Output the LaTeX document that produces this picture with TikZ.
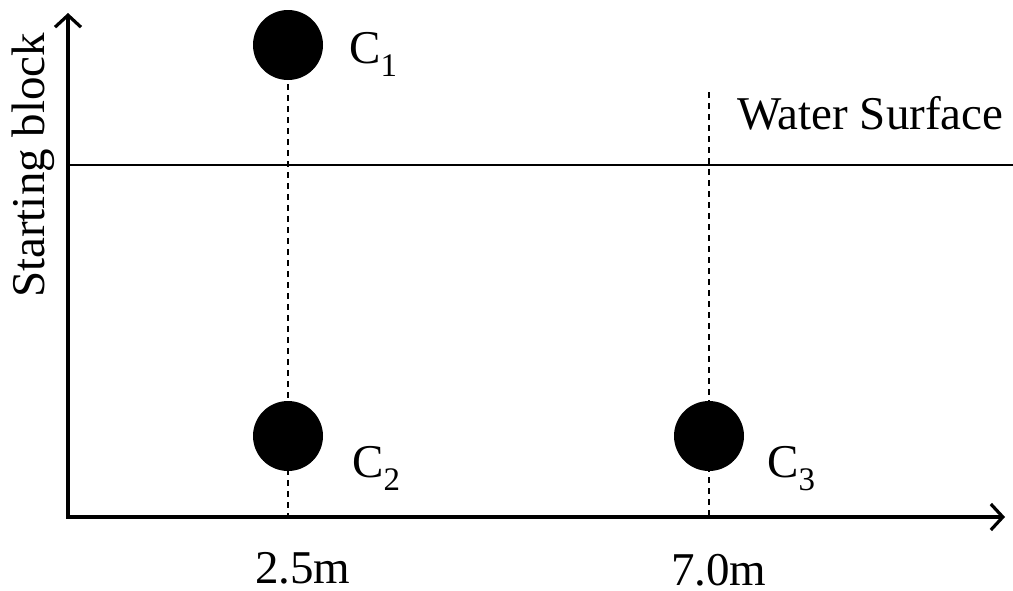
\documentclass[tikz,border=0pt]{standalone}
\usepackage{fontspec}
\setmainfont{Liberation Serif}
\usetikzlibrary{arrows.meta}
\begin{document}
\begin{tikzpicture}[x=1pt,y=-1pt,
  axis/.style={line width=3.2pt,-{Straight Barb[length=12pt,width=26pt,line width=3.2pt]}},
  guide/.style={line width=1.4pt,dash pattern=on 6pt off 5pt},
  dot/.style={circle,fill=black,inner sep=0pt,minimum size=70pt},
  lbl/.style={inner sep=0pt,font=\fontsize{47}{54}\selectfont}]
\useasboundingbox (0,0) rectangle (1013,590);
% coordinates
\coordinate (O) at (68,517);
\coordinate (ytop) at (68,13);
\coordinate (xend) at (1005,517);
\coordinate (wl) at (68,165);
\coordinate (wr) at (1013,165);
\coordinate (b1) at (288,517);
\coordinate (b3) at (709,517);
\coordinate (t3) at (709,92);
% dashed guides
\node[dot] (c1) at (288,45) {};
\draw[guide] (c1.south) ++(0,4) -- (b1);
\draw[guide] (t3) -- (b3);
\node[dot] (c2) at (288,436) {};
\node[dot] (c3) at (709,436) {};
% water surface
\draw[line width=1.6pt] (wl) -- (wr);
% axes
\draw[axis] (O) -- (ytop);
\draw[axis] ([xshift=-1.6pt]O) -- (xend);
% labels
\node[lbl,anchor=base west] (l1) at (349,63) {C\textsubscript{1}};
\node[lbl,anchor=base west] (l2) at (352,477) {C\textsubscript{2}};
\node[lbl,anchor=base west] (l3) at (767,477) {C\textsubscript{3}};
\node[lbl,anchor=base west] (ws) at (737,129) {Water Surface};
\node[lbl,anchor=base west] (d1) at (255,583) {2.5m};
\node[lbl,anchor=base west] (d2) at (671,585) {7.0m};
\node[lbl,anchor=base west,rotate=90] (sb) at (44,298) {Starting block};
\end{tikzpicture}
\end{document}
